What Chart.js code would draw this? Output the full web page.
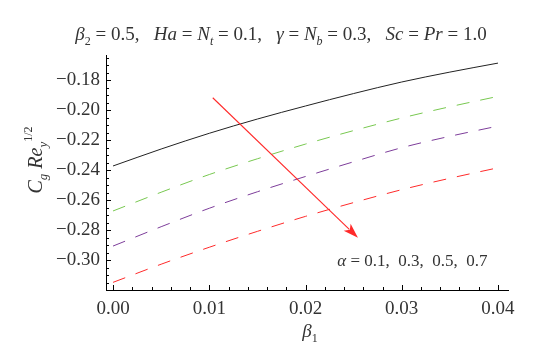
<!DOCTYPE html>
<html>
<head>
<meta charset="utf-8">
<script src="https://cdn.jsdelivr.net/npm/chart.js@4"></script>
<style>
  html, body { margin: 0; padding: 0; background: #fff; }
</style>
</head>
<body>
<canvas id="chart" width="537" height="352"></canvas>
<script>
// beta_1 values along the x axis
const beta1 = [0, 0.005, 0.01, 0.015, 0.02, 0.025, 0.03, 0.035, 0.04];

// C_g Re_y^(1/2) for each alpha
const alpha01 = [-0.2373, -0.2260, -0.2155, -0.2060, -0.1973, -0.1890, -0.1813, -0.1747, -0.1687];
const alpha03 = [-0.2673, -0.2548, -0.2430, -0.2325, -0.2227, -0.2137, -0.2053, -0.1978, -0.1909];
const alpha05 = [-0.2907, -0.2778, -0.2655, -0.2545, -0.2443, -0.2345, -0.2251, -0.2175, -0.2107];
const alpha07 = [-0.3149, -0.3028, -0.2915, -0.2809, -0.2709, -0.2617, -0.2531, -0.2455, -0.2385];

// tick labels
const xMajorTicks = [0, 0.01, 0.02, 0.03, 0.04];
const yMajorTicks = [-0.30, -0.28, -0.26, -0.24, -0.22, -0.20, -0.18];

// arrow annotation (data space)
const arrowFrom = [0.01036, -0.1918];
const arrowTo = [0.02545, -0.2851];
const alphaLabelAt = [0.0233, -0.3038];

const FONT = "'Liberation Serif', 'DejaVu Serif', serif";
const TEXT = "#333";

function minorList(lo, hi, step) {
    const out = [];
    const n0 = Math.ceil(lo / step - 1e-9), n1 = Math.floor(hi / step + 1e-9);
    for (let i = n0; i <= n1; i++) out.push(+(i * step).toFixed(6));
    return out;
}
function isMajor(v, step) {
    return Math.abs(v / step - Math.round(v / step)) < 1e-6;
}

// draw a run of text segments (italic / sub / sup)
function richText(ctx, segs, x, y, align) {
    let w = 0;
    segs.forEach(s => {
        ctx.font = (s.it ? "italic " : "") + (s.sz || 19) + "px " + FONT;
        s.w = ctx.measureText(s.t).width;
        w += s.w;
    });
    let cx = align === "center" ? x - w / 2 : x;
    ctx.textBaseline = "alphabetic";
    ctx.textAlign = "left";
    segs.forEach(s => {
        ctx.font = (s.it ? "italic " : "") + (s.sz || 19) + "px " + FONT;
        ctx.fillText(s.t, cx, y + (s.dy || 0));
        cx += s.w;
    });
}

const decorPlugin = {
    id: "decor",
    afterDraw(chart) {
        const ctx = chart.ctx;
        const xs = chart.scales.x, ys = chart.scales.y;
        const area = chart.chartArea;
        ctx.save();
        // inward tick marks
        ctx.strokeStyle = "#000";
        ctx.lineWidth = 1;
        ctx.beginPath();
        xs.ticks.forEach(t => {
            const px = Math.round(xs.getPixelForValue(t.value)) + 0.5;
            const len = isMajor(t.value, 0.01) ? 5 : 3;
            ctx.moveTo(px, area.bottom);
            ctx.lineTo(px, area.bottom - len);
        });
        ys.ticks.forEach(t => {
            const py = Math.round(ys.getPixelForValue(t.value)) + 0.5;
            const len = isMajor(t.value, 0.02) ? 5 : 3;
            ctx.moveTo(area.left, py);
            ctx.lineTo(area.left + len, py);
        });
        ctx.stroke();

        // arrow
        const x0 = xs.getPixelForValue(arrowFrom[0]), y0 = ys.getPixelForValue(arrowFrom[1]);
        const x1 = xs.getPixelForValue(arrowTo[0]), y1 = ys.getPixelForValue(arrowTo[1]);
        const ang = Math.atan2(y1 - y0, x1 - x0);
        const hl = 15, hw = 5;
        ctx.strokeStyle = "#ff2a2a";
        ctx.fillStyle = "#ff2a2a";
        ctx.lineWidth = 1.1;
        ctx.beginPath();
        ctx.moveTo(x0, y0);
        ctx.lineTo(x1 - Math.cos(ang) * hl * 0.8, y1 - Math.sin(ang) * hl * 0.8);
        ctx.stroke();
        ctx.beginPath();
        ctx.moveTo(x1, y1);
        ctx.lineTo(x1 - Math.cos(ang) * hl - Math.sin(ang) * hw, y1 - Math.sin(ang) * hl + Math.cos(ang) * hw);
        ctx.lineTo(x1 - Math.cos(ang) * hl * 0.75, y1 - Math.sin(ang) * hl * 0.75);
        ctx.lineTo(x1 - Math.cos(ang) * hl + Math.sin(ang) * hw, y1 - Math.sin(ang) * hl - Math.cos(ang) * hw);
        ctx.closePath();
        ctx.fill();

        ctx.fillStyle = TEXT;
        // alpha label
        richText(ctx, [
            { t: "\u03b1", it: true, sz: 17 },
            { t: " = 0.1,  0.3,  0.5,  0.7", sz: 17 }
        ], xs.getPixelForValue(alphaLabelAt[0]), ys.getPixelForValue(alphaLabelAt[1]), "left");

        // title
        richText(ctx, [
            { t: "\u03b2", it: true }, { t: "2", sz: 12, dy: 5 },
            { t: " = 0.5,   " }, { t: "Ha", it: true }, { t: " = " },
            { t: "N", it: true }, { t: "t", it: true, sz: 12, dy: 5 },
            { t: " = 0.1,   " }, { t: "\u03b3", it: true }, { t: " = " },
            { t: "N", it: true }, { t: "b", it: true, sz: 12, dy: 5 },
            { t: " = 0.3,   " }, { t: "Sc", it: true }, { t: " = " },
            { t: "Pr", it: true }, { t: " = 1.0" }
        ], 281, 40, "center");

        // x axis title
        richText(ctx, [
            { t: "\u03b2", it: true, sz: 19 }, { t: "1", sz: 12, dy: 5 }
        ], 310, 337, "center");

        // y axis title
        ctx.translate(42, 160);
        ctx.rotate(-Math.PI / 2);
        richText(ctx, [
            { t: "C", it: true, sz: 20 }, { t: "g", it: true, sz: 13, dy: 5 },
            { t: " Re", it: true, sz: 20 }, { t: "y", it: true, sz: 13, dy: 5 },
            { t: "1/2", sz: 12, dy: -10 }
        ], 0, 0, "center");
        ctx.restore();
    }
};

function series(vals) {
    return beta1.map((b, i) => ({ x: b, y: vals[i] }));
}

const lineBase = {
    borderWidth: 1,
    pointRadius: 0,
    fill: false,
    cubicInterpolationMode: "monotone"
};

const chart = new Chart(document.getElementById("chart").getContext("2d"), {
    type: "line",
    data: {
        datasets: [
            Object.assign({ label: "alpha = 0.1", data: series(alpha01), borderColor: "#222" }, lineBase),
            Object.assign({ label: "alpha = 0.3", data: series(alpha03), borderColor: "#78c850", borderDash: [13, 11] }, lineBase),
            Object.assign({ label: "alpha = 0.5", data: series(alpha05), borderColor: "#7d3d9a", borderDash: [13, 11] }, lineBase),
            Object.assign({ label: "alpha = 0.7", data: series(alpha07), borderColor: "#ff2a2a", borderDash: [13, 11] }, lineBase)
        ]
    },
    options: {
        responsive: false,
        animation: false,
        layout: { padding: { top: 55, right: 29, left: 0, bottom: 0 } },
        plugins: {
            legend: { display: false },
            tooltip: { enabled: false }
        },
        scales: {
            x: {
                type: "linear",
                min: -0.00073,
                max: 0.04104,
                afterBuildTicks: s => { s.ticks = minorList(0, 0.04, 0.002).map(v => ({ value: v })); },
                afterFit: s => { s.height = 62; },
                border: { display: true, color: "#000", width: 1 },
                grid: { display: false, drawTicks: false },
                ticks: {
                    autoSkip: false,
                    maxRotation: 0,
                    padding: 8,
                    color: TEXT,
                    font: { family: FONT, size: 19 },
                    callback: v => xMajorTicks.some(m => Math.abs(m - v) < 1e-7) ? v.toFixed(2) : ""
                }
            },
            y: {
                type: "linear",
                min: -0.32,
                max: -0.1633,
                afterBuildTicks: s => { s.ticks = minorList(-0.32, -0.165, 0.005).map(v => ({ value: v })); },
                afterFit: s => { s.width = 106; },
                border: { display: true, color: "#000", width: 1 },
                grid: { display: false, drawTicks: false },
                ticks: {
                    autoSkip: false,
                    padding: 6,
                    color: TEXT,
                    font: { family: FONT, size: 19 },
                    callback: v => yMajorTicks.some(m => Math.abs(m - v) < 1e-7) ? v.toFixed(2).replace("-", "\u2212") : ""
                }
            }
        }
    },
    plugins: [decorPlugin]
});
</script>
</body>
</html>
